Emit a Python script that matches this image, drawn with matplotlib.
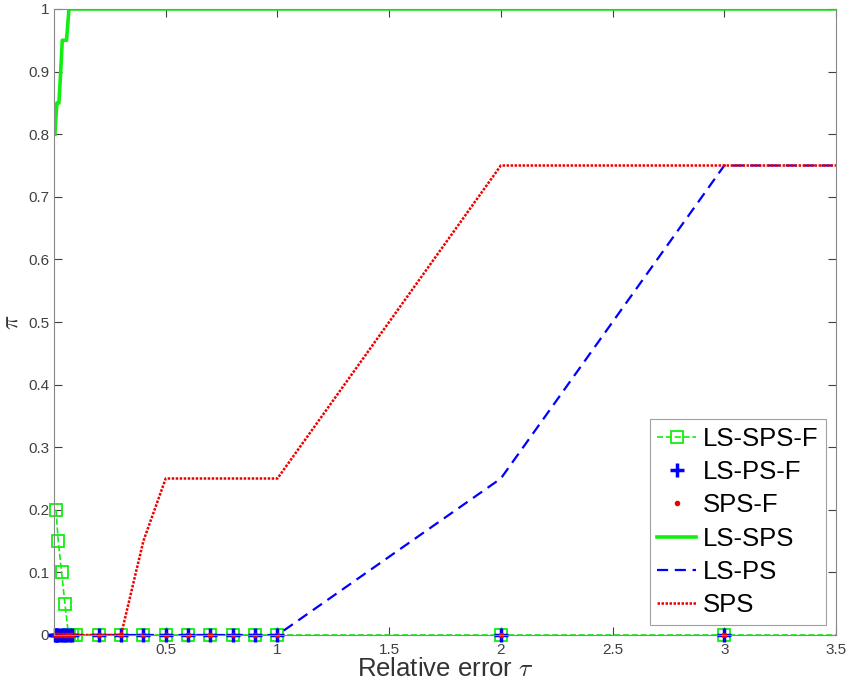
import matplotlib.pyplot as plt

plt.rcParams['font.family'] = ['Liberation Sans', 'DejaVu Sans']
plt.rcParams['mathtext.fontset'] = 'cm'

# tau values for the "-F" variants (markers)
tau_f = [0.005, 0.01, 0.015, 0.02, 0.03, 0.04, 0.05, 0.06, 0.07, 0.08,
         0.2, 0.3, 0.4, 0.5, 0.6, 0.7, 0.8, 0.9, 1.0, 2.0, 3.0]

# LS-SPS-F (green dashed with squares)
tau_lssps_f = [0.009, 0.019, 0.034, 0.049, 0.065, 0.08, 0.1,
               0.2, 0.3, 0.4, 0.5, 0.6, 0.7, 0.8, 0.9, 1.0, 2.0, 3.0, 3.5]
pi_lssps_f = [0.2, 0.15, 0.1, 0.05, 0, 0, 0,
              0, 0, 0, 0, 0, 0, 0, 0, 0, 0, 0, 0]

pi_lsps_f = [0] * len(tau_f)
pi_sps_f = [0] * len(tau_f)

# LS-SPS (green solid)
tau_lssps = [0.004, 0.013, 0.022, 0.03, 0.037, 0.056, 0.067, 3.5]
pi_lssps = [0.8, 0.85, 0.85, 0.9, 0.95, 0.95, 1.0, 1.0]

# LS-PS (blue dashed)
tau_lsps = [0.0, 1.0, 2.0, 3.0, 3.5]
pi_lsps = [0.0, 0.0, 0.25, 0.75, 0.75]

# SPS (red dotted)
tau_sps = [0.0, 0.3, 0.4, 0.5, 1.0, 2.0, 3.5]
pi_sps = [0.0, 0.0, 0.15, 0.25, 0.25, 0.75, 0.75]

green = '#11ee11'
blue = '#0000ff'
red = '#ee0000'

fig = plt.figure(figsize=(8.51, 6.93), dpi=100)
ax = fig.add_axes([54 / 851, 1 - 635 / 693, (836 - 54) / 851, (635 - 9) / 693])

# line of LS-SPS-F runs to 3.5, markers only up to 3
ax.plot(tau_lssps_f, pi_lssps_f, '--', color=green, lw=1.2, label='_nolegend_')
ax.plot(tau_lssps_f[:-1], pi_lssps_f[:-1], 's', color=green, markersize=9,
        markerfacecolor='none', markeredgewidth=1.3, clip_on=False, label='_nolegend_')
ax.plot(tau_f, pi_lsps_f, '+', color=blue, markersize=10,
        markeredgewidth=2.5, linestyle='none', clip_on=False, label='LS-PS-F')
ax.plot(tau_f, pi_sps_f, '.', color=red, markersize=6,
        linestyle='none', clip_on=False, label='SPS-F')
ax.plot(tau_lssps, pi_lssps, '-', color=green, lw=2.6, label='LS-SPS')
ax.plot(tau_lsps, pi_lsps, '--', color=blue, lw=1.6, dashes=(5, 3), label='LS-PS')
ax.plot(tau_sps, pi_sps, ':', color=red, lw=1.8, dashes=(1, 0.6), label='SPS')

# legend proxy for LS-SPS-F (dashed line + square)
proxy, = ax.plot([], [], '--', color=green, lw=1.2, marker='s', markersize=9,
                 markerfacecolor='none', markeredgewidth=1.3)

ax.set_xlim(0, 3.5)
ax.set_ylim(0, 1)
ax.set_xticks([0.5, 1, 1.5, 2, 2.5, 3, 3.5])
ax.set_xticklabels(['0.5', '1', '1.5', '2', '2.5', '3', '3.5'])
ax.set_yticks([i / 10 for i in range(11)])
ax.set_yticklabels(['0', '0.1', '0.2', '0.3', '0.4', '0.5', '0.6', '0.7', '0.8', '0.9', '1'])
ax.tick_params(direction='in', length=6, colors='#404040', labelsize=11,
               top=True, right=True, labeltop=False, labelright=False)
ax.tick_params(axis='x', pad=6)
for s in ax.spines.values():
    s.set_color('#888888')
    s.set_linewidth(0.8)

ax.set_xlabel(r'Relative error $\tau$', fontsize=18.5, color='#333333', labelpad=0)
ax.set_ylabel(r'$\pi$', fontsize=17, color='#333333', labelpad=4)

handles, labels = ax.get_legend_handles_labels()
leg = ax.legend([proxy] + handles, ['LS-SPS-F'] + labels,
                loc='lower right', fontsize=18.5, frameon=True, fancybox=False,
                edgecolor='#888888', handlelength=1.5, handletextpad=0.25,
                borderpad=0.3, labelspacing=0.36, borderaxespad=0.4)
leg.get_frame().set_linewidth(0.8)

fig.savefig('out.png', dpi=100)
